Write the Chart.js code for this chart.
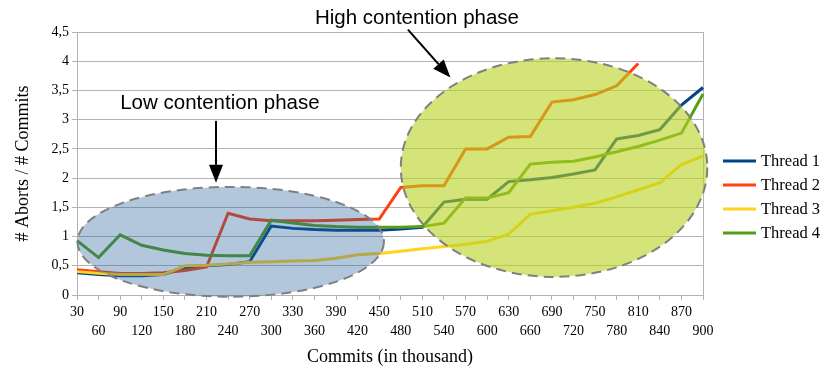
<!DOCTYPE html>
<html>
<head>
<meta charset="utf-8">
<title>Aborts per commit</title>
<script src="https://cdn.jsdelivr.net/npm/chart.js@4.4.1/dist/chart.umd.min.js"></script>
<style>
  html, body { margin: 0; padding: 0; background: #fff; }
  #chart { display: block; }
</style>
</head>
<body>
<canvas id="chart" width="827" height="369"></canvas>
<script>
// ---------- Data ----------
const commits = ["30","60","90","120","150","180","210","240","270","300","330","360","390","420","450",
                 "480","510","540","570","600","630","660","690","720","750","780","810","840","870","900"];

const thread1 = [0.38,0.35,0.33,0.33,0.35,0.47,0.50,0.52,0.57,1.18,1.14,1.12,1.11,1.11,1.11,
                 1.13,1.16,1.59,1.64,1.64,1.94,1.97,2.01,2.07,2.14,2.67,2.73,2.83,3.25,3.55];
const thread2 = [0.43,0.40,0.37,0.37,0.38,0.42,0.48,1.40,1.30,1.27,1.27,1.27,1.28,1.29,1.30,
                 1.84,1.87,1.87,2.50,2.50,2.70,2.71,3.30,3.34,3.43,3.58,3.96,null,null,null];
const thread3 = [0.40,0.37,0.35,0.35,0.35,0.50,0.51,0.53,0.56,0.57,0.58,0.59,0.63,0.69,0.71,
                 0.75,0.79,0.83,0.87,0.92,1.04,1.38,1.44,1.50,1.57,1.68,1.80,1.92,2.23,2.38];
const thread4 = [0.93,0.64,1.03,0.85,0.77,0.71,0.68,0.67,0.67,1.28,1.23,1.19,1.17,1.16,1.16,
                 1.16,1.17,1.23,1.66,1.66,1.75,2.24,2.27,2.29,2.36,2.45,2.54,2.65,2.77,3.44];

const seriesNames = ["Thread 1", "Thread 2", "Thread 3", "Thread 4"];
const seriesColors = ["#004586", "#ff420e", "#ffd320", "#579d1c"];

// phase annotations, in data units (x = category index, y = value)
const phases = [
  { text: "Low contention phase",  cx: 7.12,  cy: 0.91, rx: 7.1, ry: 0.94, fill: "rgba(34,91,154,0.35)",
    label: [6.62, 3.28], arrow: [6.44, 2.98, 6.44, 1.92] },
  { text: "High contention phase", cx: 22.1,  cy: 2.18, rx: 7.1, ry: 1.87, fill: "rgba(185,210,30,0.6)",
    label: [15.75, 4.74], arrow: [15.33, 4.54, 17.3, 3.72] }
];

const GRID = "#b3b3b3";
const SERIF = "'Liberation Serif', 'Times New Roman', serif";
const SANS = "'Liberation Sans', Arial, sans-serif";

// ---------- Helpers ----------
function drawArrow(ctx, x1, y1, x2, y2) {
  const ang = Math.atan2(y2 - y1, x2 - x1);
  const head = 18, half = 7;
  const bx = x2 - head * Math.cos(ang), by = y2 - head * Math.sin(ang);
  ctx.strokeStyle = "#000";
  ctx.lineWidth = 2;
  ctx.beginPath();
  ctx.moveTo(x1, y1);
  ctx.lineTo(bx, by);
  ctx.stroke();
  ctx.fillStyle = "#000";
  ctx.beginPath();
  ctx.moveTo(x2, y2);
  ctx.lineTo(bx + half * Math.sin(ang), by - half * Math.cos(ang));
  ctx.lineTo(bx - half * Math.sin(ang), by + half * Math.cos(ang));
  ctx.closePath();
  ctx.fill();
}

const phasePlugin = {
  id: "phases",
  afterDatasetsDraw(chart) {
    const { ctx, scales: { x, y } } = chart;
    ctx.save();
    phases.forEach(p => {
      const cx = x.getPixelForValue(p.cx), cy = y.getPixelForValue(p.cy);
      const rx = x.getPixelForValue(p.cx + p.rx) - cx;
      const ry = cy - y.getPixelForValue(p.cy + p.ry);
      ctx.beginPath();
      ctx.ellipse(cx, cy, rx, ry, 0, 0, Math.PI * 2);
      ctx.fillStyle = p.fill;
      ctx.fill();
      ctx.setLineDash([10, 6]);
      ctx.lineWidth = 2;
      ctx.strokeStyle = "#808080";
      ctx.stroke();
      ctx.setLineDash([]);

      ctx.fillStyle = "#000";
      ctx.font = "20.5px " + SANS;
      ctx.textAlign = "center";
      ctx.textBaseline = "middle";
      ctx.fillText(p.text, x.getPixelForValue(p.label[0]), y.getPixelForValue(p.label[1]));

      drawArrow(ctx,
        x.getPixelForValue(p.arrow[0]), y.getPixelForValue(p.arrow[1]),
        x.getPixelForValue(p.arrow[2]), y.getPixelForValue(p.arrow[3]));
    });
    ctx.restore();
  },
  afterDraw(chart) {
    // legend on the right, LibreOffice style
    const { ctx, chartArea } = chart;
    ctx.save();
    const left = chartArea.right + 20;
    let top = 161;
    seriesNames.forEach((name, i) => {
      ctx.strokeStyle = seriesColors[i];
      ctx.lineWidth = 3;
      ctx.beginPath();
      ctx.moveTo(left, top);
      ctx.lineTo(left + 33, top);
      ctx.stroke();
      ctx.fillStyle = "#000";
      ctx.font = "16.5px " + SERIF;
      ctx.textAlign = "left";
      ctx.textBaseline = "middle";
      ctx.fillText(name, left + 38, top + 1);
      top += 24;
    });
    ctx.restore();
  }
};

// ---------- Chart ----------
const datasets = [thread1, thread2, thread3, thread4].map((vals, i) => ({
  label: seriesNames[i],
  data: vals,
  borderColor: seriesColors[i],
  backgroundColor: seriesColors[i],
  borderWidth: 3,
  pointRadius: 0,
  tension: 0,
  order: 4 - i // later threads on top
}));

new Chart(document.getElementById("chart"), {
  type: "line",
  data: { labels: commits, datasets },
  plugins: [phasePlugin],
  options: {
    responsive: false,
    animation: false,
    devicePixelRatio: 1,
    layout: { padding: { left: 0, right: 124, top: 32, bottom: 0 } },
    plugins: { legend: { display: false }, tooltip: { enabled: false } },
    scales: {
      x: {
        offset: false,
        afterFit: s => { s.height = 74; },
        grid: {
          drawOnChartArea: true,
          color: c => c.index === commits.length - 1 ? GRID : "rgba(0,0,0,0)",
          tickColor: GRID,
          tickLength: 5
        },
        border: { color: GRID },
        ticks: {
          autoSkip: false,
          maxRotation: 0,
          padding: 3,
          color: "#000",
          font: { family: SERIF, size: 14, lineHeight: 1.35 },
          callback: function (value, index) {
            const l = this.getLabelForValue(value);
            return index % 2 ? ["", l] : l;
          }
        },
        title: {
          display: true,
          text: "Commits (in thousand)",
          color: "#000",
          font: { family: SERIF, size: 18 },
          padding: { top: 0, bottom: 1 }
        }
      },
      y: {
        min: 0,
        max: 4.5,
        afterFit: s => { s.width = 77; },
        grid: { color: GRID, tickColor: GRID, tickLength: 5 },
        border: { color: GRID },
        ticks: {
          stepSize: 0.5,
          padding: 3,
          color: "#000",
          font: { family: SERIF, size: 14 },
          callback: v => String(v).replace(".", ",")
        },
        title: {
          display: true,
          text: "# Aborts / # Commits",
          color: "#000",
          font: { family: SERIF, size: 18 },
          padding: { top: 12, bottom: 0 }
        }
      }
    }
  }
});
</script>
</body>
</html>
